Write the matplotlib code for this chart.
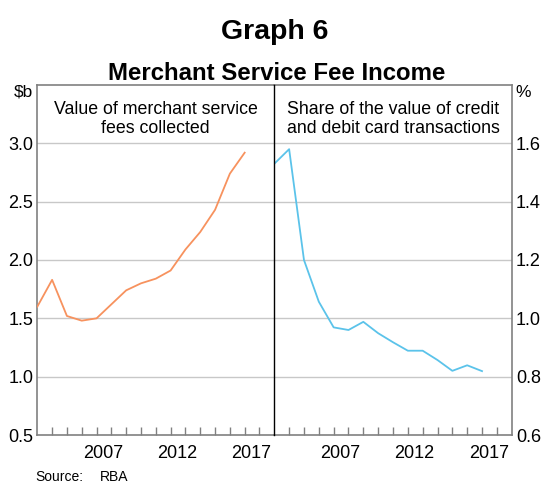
import numpy as np
import matplotlib
matplotlib.use("Agg")
import matplotlib.pyplot as plt

plt.rcParams['font.family'] = ['Liberation Sans', 'DejaVu Sans']

# data (financial years)
years = [2003, 2004, 2005, 2006, 2007, 2008, 2009, 2010, 2011, 2012,
         2013, 2014, 2015, 2016, 2017]
fees_bn = [1.60, 1.83, 1.52, 1.48, 1.50, 1.62, 1.74, 1.80, 1.84, 1.91,
           2.09, 2.24, 2.43, 2.74, 2.92]
fee_share = [1.53, 1.58, 1.20, 1.057, 0.969, 0.96, 0.988, 0.949, 0.918, 0.889,
             0.889, 0.857, 0.82, 0.839, 0.819]
year_labels = ["2007", "2012", "2017"]
left_ticks = [0.5, 1.0, 1.5, 2.0, 2.5, 3.0]
right_ticks = [0.6, 0.8, 1.0, 1.2, 1.4, 1.6]

orange = "#F7925E"
blue = "#5BC3EA"
grid_col = "#C8C8C8"
spine_col = "#808080"

fig = plt.figure(figsize=(5.41, 4.84), dpi=100)
W, H = 541.0, 484.0
bot = 1 - 435 / H
hgt = (435 - 85) / H
ax1 = fig.add_axes([37.3 / W, bot, 237.0 / W, hgt])
ax2 = fig.add_axes([274.3 / W, bot, 237.4 / W, hgt])

def style(ax, ylim, yticks):
    ax.set_xlim(2003, 2019)
    ax.set_ylim(*ylim)
    ax.set_yticks(yticks)
    ax.set_yticklabels(["%.1f" % t for t in yticks])
    for t in yticks[1:]:
        ax.axhline(t, color=grid_col, lw=1.0, zorder=1)
    ax.set_xticks(np.arange(2004, 2019))
    ax.set_xticklabels([])
    ax.set_xticks([int(y) + 0.45 for y in year_labels], minor=True)
    ax.set_xticklabels(year_labels, minor=True)
    ax.tick_params(axis='x', which='major', direction='in', length=6,
                   color=spine_col, width=1)
    ax.tick_params(axis='x', which='minor', length=0, pad=7, labelsize=13)
    ax.tick_params(axis='y', length=0, pad=3, labelsize=13)
    for s in ax.spines.values():
        s.set_color(spine_col)
        s.set_linewidth(1.2)

style(ax1, (0.5, 3.5), left_ticks)
style(ax2, (0.6, 1.8), right_ticks)
ax2.yaxis.tick_right()
ax1.spines['right'].set_visible(False)
ax2.spines['left'].set_color("black")
ax2.spines['left'].set_linewidth(1.0)
ax2.spines['left'].set_zorder(5)

ax1.plot(years, fees_bn, color=orange, lw=1.3, zorder=3)
ax2.plot(years, fee_share, color=blue, lw=1.3, zorder=3)

ax1.text(0.5, 0.955, "Value of merchant service\nfees collected", transform=ax1.transAxes,
         ha='center', va='top', fontsize=12.8, linespacing=1.2)
ax2.text(0.5, 0.955, "Share of the value of credit\nand debit card transactions",
         transform=ax2.transAxes, ha='center', va='top', fontsize=12.8, linespacing=1.2)

fig.text(33 / W, 1 - 92.5 / H, "$b", ha='right', va='center', fontsize=12.5)
fig.text(515 / W, 1 - 92.5 / H, "%", ha='left', va='center', fontsize=12.5)

fig.text(274.5 / W, 1 - 39 / H, "Graph 6", ha='center', va='baseline',
         fontsize=20.5, fontweight='bold')
fig.text(277 / W, 1 - 80 / H, "Merchant Service Fee Income", ha='center',
         va='baseline', fontsize=17.3, fontweight='bold')

fig.text(35 / W, 1 - 470 / H, "Source:", ha='left', va='top', fontsize=10)
fig.text(100 / W, 1 - 470 / H, "RBA", ha='left', va='top', fontsize=10)

fig.savefig("out.png", dpi=100)
